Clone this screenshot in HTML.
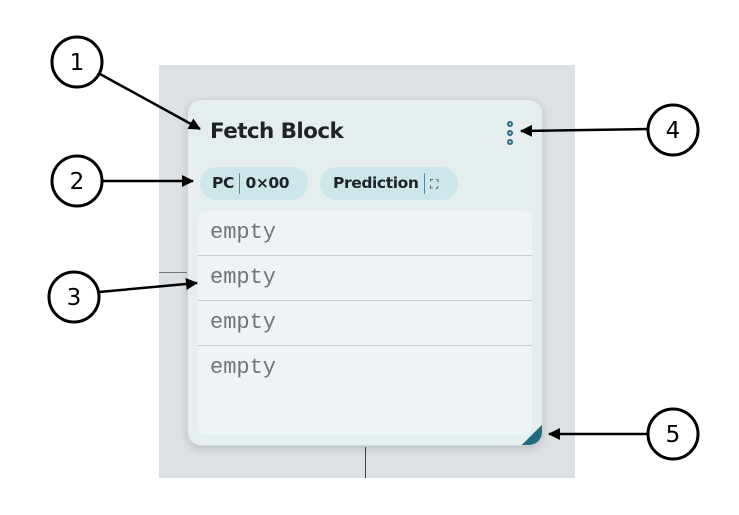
<!DOCTYPE html>
<html><head><style>
html,body{margin:0;padding:0;background:#fff;width:739px;height:515px;overflow:hidden;position:relative;font-family:"Liberation Sans","DejaVu Sans",sans-serif}
.bg{position:absolute;left:159px;top:65px;width:416px;height:413px;background:#dde1e3}
.card{position:absolute;left:187px;top:99px;width:356px;height:347px;background:#e6edef;border:1px solid #cdd6d9;box-sizing:border-box;border-radius:14px;box-shadow:0 3px 8px rgba(0,0,0,.15);overflow:hidden}
.title{position:absolute;left:22px;top:19px;font-size:21.5px;font-weight:bold;color:#1e2326;font-family:"DejaVu Sans",sans-serif;letter-spacing:-0.6px}
.dots{position:absolute;left:319px;top:21px;width:6px}
.dots i{display:block;width:2px;height:2px;border:2px solid #2a6f86;border-radius:50%;margin-bottom:3px}
.pill{position:absolute;top:67px;height:33px;border-radius:17px;background:#cde6ea;font-size:15.5px;font-weight:bold;color:#1e2326;line-height:33px;font-family:"DejaVu Sans",sans-serif;letter-spacing:-0.4px}
.pill b{display:inline-block;width:1.5px;height:21px;background:#4a8da0;vertical-align:middle;margin:0 5px}
.list{position:absolute;left:10px;top:111px;width:334px;height:224px;background:#eef3f5;border-radius:8px}
.row{height:44px;border-bottom:1.5px solid #c4cccf;font-family:"Liberation Mono",monospace;font-size:22px;color:#6f757b;padding-left:12px;line-height:44px}
.corner{position:absolute;right:0;bottom:0;width:20px;height:20px;background:linear-gradient(135deg,transparent 50%,#1f6b80 50%)}
</style></head><body>
<div class="bg"></div>
<div style="position:absolute;left:159px;top:272px;width:30px;height:1px;background:#777"></div>
<div style="position:absolute;left:365px;top:447px;width:1px;height:31px;background:#444"></div>
<div class="card">
<div class="title">Fetch Block</div>
<div class="dots"><i></i><i></i><i></i></div>
<div class="pill" style="left:12px;width:108px;padding-left:12px;box-sizing:border-box">PC<b></b>0×00</div>
<div class="pill" style="left:132px;width:138px;padding-left:13px;box-sizing:border-box">Prediction<b></b><span style="font-size:12px;font-weight:normal">⛶</span></div>
<div class="list">
<div class="row">empty</div><div class="row">empty</div><div class="row">empty</div><div class="row" style="border:none">empty</div>
</div>
<div class="corner"></div>
</div>
<svg width="739" height="515" style="position:absolute;left:0;top:0" font-family="DejaVu Sans" font-size="23">
<defs><marker id="a" markerWidth="12" markerHeight="12" refX="11" refY="6" orient="auto" markerUnits="userSpaceOnUse" viewBox="0 0 12 12"><path d="M0,0L12,6L0,12z" fill="#000"/></marker></defs>
<g stroke="#000" stroke-width="2.5" fill="none">
<line x1="100" y1="74" x2="200" y2="129" marker-end="url(#a)"/>
<line x1="102" y1="181" x2="193" y2="181" marker-end="url(#a)"/>
<line x1="99" y1="292" x2="197" y2="283" marker-end="url(#a)"/>
<line x1="648" y1="129" x2="521" y2="131" marker-end="url(#a)"/>
<line x1="648" y1="434" x2="549" y2="434" marker-end="url(#a)"/>
</g>
<g stroke="#000" stroke-width="3" fill="#fff">
<circle cx="77" cy="62" r="25"/><circle cx="77" cy="181" r="25"/><circle cx="74" cy="297" r="25"/><circle cx="673" cy="130" r="25"/><circle cx="673" cy="434" r="25"/>
</g>
<g text-anchor="middle" fill="#000">
<text x="77" y="70">1</text><text x="77" y="189">2</text><text x="74" y="305">3</text><text x="673" y="138">4</text><text x="673" y="442">5</text>
</g>
</svg>
</body></html>
